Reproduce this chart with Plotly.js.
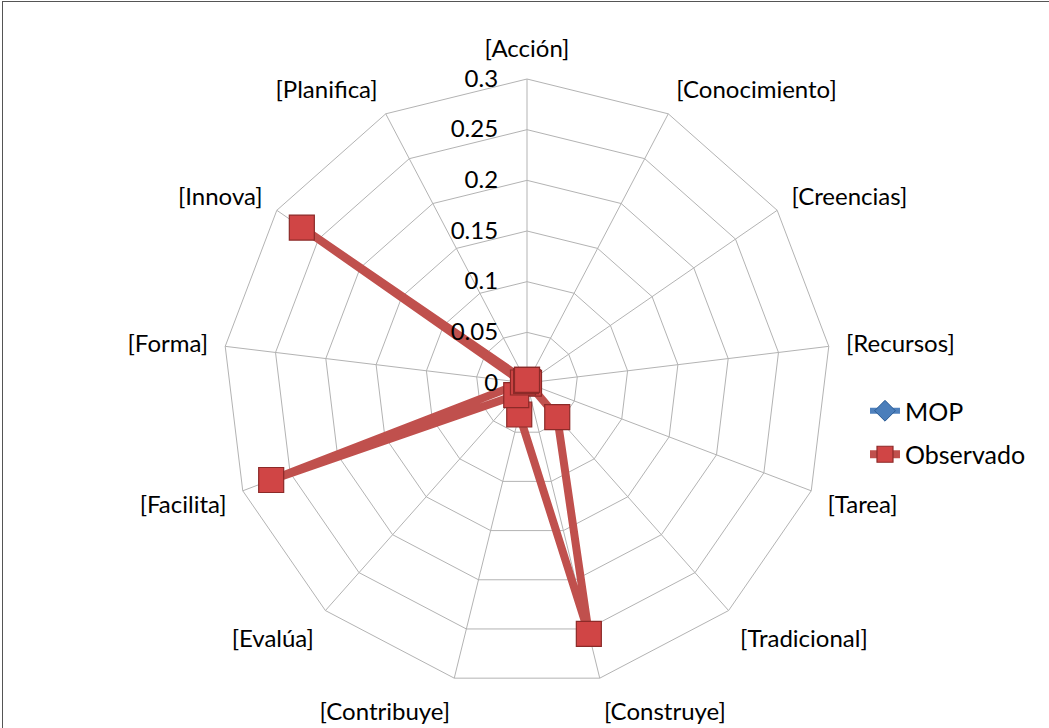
<!DOCTYPE html>
<html>
<head>
<meta charset="utf-8">
<script src="https://cdn.plot.ly/plotly-3.0.1.min.js"></script>
<style>
html,body{margin:0;padding:0;background:#fff;}
#wrap{position:relative;width:1049px;height:728px;overflow:hidden;}
#chart{width:1049px;height:728px;}
#frame{position:absolute;left:2px;top:1px;width:1060px;height:740px;border:1.5px solid #555;pointer-events:none;}
</style>
</head>
<body>
<div id="wrap"><div id="chart"></div><div id="frame"></div></div>
<script>
const categories = ["[Acción]","[Conocimiento]","[Creencias]","[Recursos]","[Tarea]","[Tradicional]","[Construye]","[Contribuye]","[Evalúa]","[Facilita]","[Forma]","[Innova]","[Planifica]"];
const mop =       [0,0,0,0,0,0,0,0,0,0,0,0,0];
const observado = [0.003,0.001,0.001,0.002,0.002,0.045,0.255,0.032,0.016,0.27,0.004,0.27,0.002];
const radialTicks = [0,0.05,0.1,0.15,0.2,0.25,0.3];
const radialTickText = ["0","0.05","0.1","0.15","0.2","0.25","0.3"];

function closeLoop(a){ return a.concat([a[0]]); }

const font = "Lato, 'Open Sans', sans-serif";

const traces = [
  {
    type:'scatterpolar', name:'MOP', mode:'lines+markers',
    r: closeLoop(mop), theta: closeLoop(categories),
    line:{color:'#4f81bd', width:6},
    marker:{symbol:'diamond', size:16, color:'#4a7ebb', line:{color:'#2c5d95', width:1}},
    legendgroup:'a', cliponaxis:false
  },
  {
    type:'scatterpolar', name:'Observado', mode:'lines+markers',
    r: closeLoop(observado), theta: closeLoop(categories),
    line:{color:'#c0504d', width:8},
    marker:{symbol:'square', size:25, color:'#d04545', line:{color:'#8c2a28', width:1.2}},
    legendgroup:'b', cliponaxis:false
  }
];

const cx = 527, cy = 383, R = 304, W = 1049, H = 728;

const layout = {
  width: W, height: H,
  margin:{l:0,r:0,t:0,b:0},
  paper_bgcolor:'#fff',
  font:{family:font, size:24, color:'#000'},
  showlegend:true,
  legend:{x:865/W, y:1-388/H, xanchor:'left', yanchor:'top', font:{family:font,size:25,color:'#000'}, tracegroupgap:8, bgcolor:'rgba(0,0,0,0)'},
  polar:{
    domain:{x:[(cx-R)/W,(cx+R)/W], y:[(H-cy-R)/H,(H-cy+R)/H]},
    bgcolor:'#fff',
    gridshape:'linear',
    angularaxis:{
      type:'category', categoryarray: categories,
      direction:'clockwise', rotation:90,
      showline:true, linecolor:'#b3b3b3', linewidth:1,
      gridcolor:'#b3b3b3', gridwidth:1,
      ticks:'outside', ticklen:12, tickcolor:'rgba(0,0,0,0)',
      tickfont:{family:font,size:24,color:'#000'}
    },
    radialaxis:{
      range:[0,0.3], angle:90, tickangle:90,
      tickvals: radialTicks, ticktext: radialTickText,
      showline:false, ticks:'outside', ticklen:20, tickcolor:'rgba(0,0,0,0)',
      gridcolor:'#b3b3b3', gridwidth:1,
      tickfont:{family:font,size:24,color:'#000'},
      side:'counterclockwise'
    }
  }
};

Plotly.newPlot('chart', traces, layout, {displayModeBar:false, staticPlot:true});
</script>
</body>
</html>
